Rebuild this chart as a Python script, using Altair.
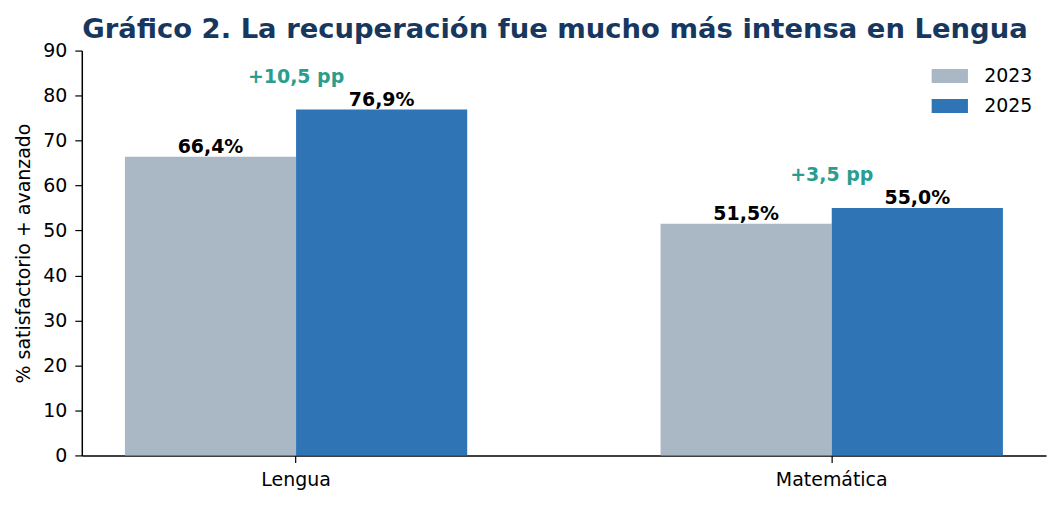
import altair as alt
import pandas as pd

materias = ["Lengua", "Matemática"]
anios = ["2023", "2025"]
v2023 = [66.4, 51.5]
v2025 = [76.9, 55.0]
colores = ["#aab7c4", "#2f75b5"]

def fmt_pct(v):
    return f"{v:.1f}%".replace(".", ",")

rows = []
for i, m in enumerate(materias):
    rows.append({"materia": m, "anio": anios[0], "valor": v2023[i], "etiqueta": fmt_pct(v2023[i])})
    rows.append({"materia": m, "anio": anios[1], "valor": v2025[i], "etiqueta": fmt_pct(v2025[i])})
df = pd.DataFrame(rows)

df_diff = pd.DataFrame({
    "materia": materias,
    "maximo": [max(a, b) for a, b in zip(v2023, v2025)],
    "dif": [f"+{b - a:.1f} pp".replace(".", ",") for a, b in zip(v2023, v2025)],
})

FONT = "DejaVu Sans"
FS = 19

x_enc = alt.X(
    "materia:N",
    sort=materias,
    scale=alt.Scale(paddingInner=0.361, paddingOuter=0.0805),
    axis=alt.Axis(
        title=None, labelAngle=0, labelFontSize=FS, labelColor="black", labelFont=FONT,
        tickSize=7, tickColor="black", tickWidth=1.2, labelPadding=8,
        domainColor="black", domainWidth=1.5, grid=False,
    ),
)
xoff = alt.XOffset("anio:N", sort=anios, scale=alt.Scale(paddingInner=0, paddingOuter=0))
y_enc = alt.Y(
    "valor:Q",
    scale=alt.Scale(domain=[0, 90], nice=False),
    axis=alt.Axis(
        title="% satisfactorio + avanzado", titleFontSize=FS, titleFontWeight="normal",
        titleColor="black", titleFont=FONT, titlePadding=9,
        values=list(range(0, 91, 10)), labelFontSize=FS, labelColor="black", labelFont=FONT,
        tickSize=7, tickColor="black", tickWidth=1.2, labelPadding=8,
        domainColor="black", domainWidth=1.5, grid=False,
    ),
)

bars = alt.Chart(df).mark_bar().encode(
    x=x_enc,
    xOffset=xoff,
    y=y_enc,
    color=alt.Color(
        "anio:N",
        scale=alt.Scale(domain=anios, range=colores),
        legend=alt.Legend(
            title=None, orient="none", legendX=861, legendY=16, padding=0,
            symbolType="M-2.6,-1H2.6V1H-2.6Z", symbolSize=196, symbolStrokeWidth=0,
            symbolOpacity=1, labelFontSize=FS, labelFont=FONT, labelColor="black",
            labelOffset=25, rowPadding=10,
        ),
    ),
)

labels = alt.Chart(df).mark_text(
    baseline="alphabetic", dy=-4, fontSize=FS, fontWeight="bold", font=FONT, color="black"
).encode(
    x=alt.X("materia:N", sort=materias),
    xOffset=alt.XOffset("anio:N", sort=anios),
    y="valor:Q",
    text="etiqueta:N",
)

diffs = alt.Chart(df_diff).transform_calculate(
    ypos="datum.maximo + 6"
).mark_text(
    baseline="alphabetic", fontSize=FS, fontWeight="bold", font=FONT, color="#2a9d8f"
).encode(
    x=alt.X("materia:N", sort=materias),
    y=alt.Y("ypos:Q"),
    text="dif:N",
)

chart = alt.layer(bars, labels, diffs).properties(
    width=967,
    height=406,
    background="white",
    title=alt.TitleParams(
        "Gráfico 2. La recuperación fue mucho más intensa en Lengua",
        fontSize=27.5, font=FONT, fontWeight="bold", color="#17375e",
        anchor="middle", frame="group", offset=-2, dx=-9,
    ),
    autosize=alt.AutoSizeParams(type="none"),
    padding={"left": 74, "top": 42, "right": 10, "bottom": 40},
).configure_view(stroke=None, strokeWidth=0)

chart.save("out.html", embed_options={"renderer": "svg", "actions": False})
